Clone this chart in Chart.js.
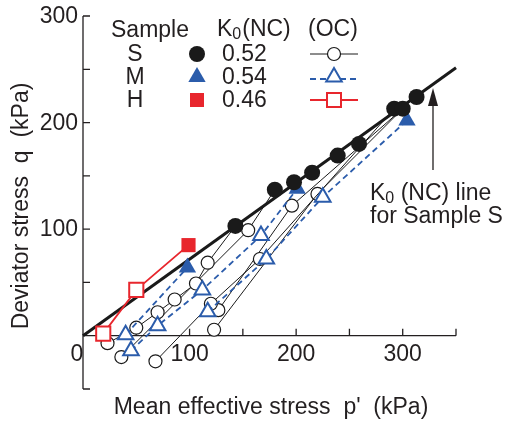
<!DOCTYPE html>
<html>
<head>
<meta charset="utf-8">
<script src="https://cdn.jsdelivr.net/npm/chart.js@4"></script>
<style>
  html, body { margin: 0; padding: 0; background: #fff; }
</style>
</head>
<body>
<canvas id="chart" width="505" height="425"></canvas>
<script>
// axis ranges and ticks
const xMin = 0, xMax = 350;
const yMin = -50, yMax = 300;
const xTicks = [50, 100, 150, 200, 250, 300, 350];
const yTicks = [-50, 0, 50, 100, 150, 200, 250, 300];
const xTickLabels = ['0', '100', '200', '300'];
const yTickLabels = ['100', '200', '300'];

// K0 (NC) line for sample S
const k0LineP = [0, 350];
const k0LineQ = [0, 251.5];

// normally consolidated states (filled)
const ncS_p = [143, 180, 198, 215, 239, 259, 292, 300, 313];
const ncS_q = [103, 137, 144, 153, 169, 180, 213, 213, 224];
const ncM_p = [98, 201, 304];
const ncM_q = [64, 138, 202];
const ncH_p = [99];
const ncH_q = [85];

// overconsolidated paths (open), last point = NC state it started from
const s1P = [23, 50, 70, 86, 106, 117, 143];
const s1Q = [-7, 7.5, 22, 34, 49, 68.5, 103];
const s2P = [36, 155, 180];
const s2Q = [-20, 99, 137];
const s3P = [68, 120, 166, 292];
const s3Q = [-24, 30, 72, 213];
const s4P = [123, 220, 300];
const s4Q = [5.6, 133, 213];
const s5P = [127, 196, 300];
const s5Q = [24, 122, 213];

const m1P = [40, 98];
const m1Q = [1, 64];
const m2P = [45, 70, 112, 167, 201];
const m2Q = [-14, 9.4, 43, 94, 138];
const m3P = [117, 172, 225, 304];
const m3Q = [22.5, 72, 130, 202];

const h1P = [19, 50, 99];
const h1Q = [2, 43, 85];

const BLACK = '#1a1a1a';
const BLUE = '#2b5cab';
const RED = '#e8262d';
const TEXT = '#231f20';
const FONT = '"Liberation Sans", Arial, sans-serif';

function toPoints(p, q) {
    return p.map((v, i) => ({ x: v, y: q[i] }));
}

function lastHidden(r) {
    return function (c) {
        return c.dataIndex === c.dataset.data.length - 1 ? 0 : r;
    };
}

function sPath(p, q) {
    return {
        data: toPoints(p, q),
        showLine: true,
        borderColor: BLACK,
        borderWidth: 1,
        pointStyle: 'circle',
        pointRadius: lastHidden(6.5),
        pointBackgroundColor: '#fff',
        pointBorderColor: BLACK,
        pointBorderWidth: 1.2
    };
}

function mPath(p, q) {
    return {
        data: toPoints(p, q),
        showLine: true,
        borderColor: BLUE,
        borderWidth: 1.8,
        borderDash: [6, 4],
        pointStyle: 'triangle',
        pointRadius: lastHidden(9),
        pointBackgroundColor: '#fff',
        pointBorderColor: BLUE,
        pointBorderWidth: 2
    };
}

function text(ctx, s, x, y, align, size) {
    ctx.font = (size || 23) + 'px ' + FONT;
    ctx.textAlign = align || 'left';
    ctx.fillText(s, x, y);
}

// K with subscript 0, returns x after it
function kZero(ctx, x, y) {
    ctx.font = '23px ' + FONT;
    ctx.textAlign = 'left';
    ctx.fillText('K', x, y);
    x += ctx.measureText('K').width;
    ctx.font = '16px ' + FONT;
    ctx.fillText('0', x, y + 3);
    return x + ctx.measureText('0').width;
}

const axesPlugin = {
    id: 'axes',
    beforeDatasetsDraw(chart) {
        const ctx = chart.ctx;
        const xs = chart.scales.x, ys = chart.scales.y;
        const x0 = xs.getPixelForValue(0);
        const y0 = ys.getPixelForValue(0);
        ctx.save();
        ctx.strokeStyle = TEXT;
        ctx.lineWidth = 1.3;
        ctx.beginPath();
        ctx.moveTo(x0, ys.getPixelForValue(yMax));
        ctx.lineTo(x0, ys.getPixelForValue(yMin));
        ctx.moveTo(x0, y0);
        ctx.lineTo(xs.getPixelForValue(xMax), y0);
        yTicks.forEach(v => {
            const y = ys.getPixelForValue(v);
            ctx.moveTo(x0, y);
            ctx.lineTo(x0 + 7, y);
        });
        xTicks.forEach(v => {
            const x = xs.getPixelForValue(v);
            ctx.moveTo(x, y0);
            ctx.lineTo(x, y0 - 7);
        });
        ctx.stroke();

        ctx.fillStyle = TEXT;
        ctx.textBaseline = 'middle';
        yTickLabels.forEach(l => {
            text(ctx, l, x0 - 5, ys.getPixelForValue(parseFloat(l)) + 1, 'right');
        });
        xTickLabels.forEach(l => {
            const v = parseFloat(l);
            const x = v === 0 ? x0 - 6 : xs.getPixelForValue(v);
            text(ctx, l, x, y0 + 19, 'center');
        });
        ctx.restore();
    },
    afterDraw(chart) {
        const ctx = chart.ctx;
        ctx.save();
        ctx.fillStyle = TEXT;
        ctx.strokeStyle = TEXT;

        // axis titles
        ctx.textBaseline = 'middle';
        text(ctx, "Mean effective stress  p'  (kPa)", 271, 408, 'center');
        ctx.save();
        ctx.translate(22, 206);
        ctx.rotate(-Math.PI / 2);
        text(ctx, 'Deviator stress  q  (kPa)', 0, 0, 'center');
        ctx.restore();

        // legend header
        ctx.textBaseline = 'alphabetic';
        text(ctx, 'Sample', 111, 37);
        let kx = kZero(ctx, 217, 36);
        text(ctx, '(NC)', kx + 1, 36);
        text(ctx, '(OC)', 308, 36);

        const rows = [
            { name: 'S', k0: '0.52', y: 54 },
            { name: 'M', k0: '0.54', y: 77 },
            { name: 'H', k0: '0.46', y: 100 }
        ];
        ctx.textBaseline = 'middle';
        rows.forEach(r => {
            text(ctx, r.name, 135, r.y + 1, 'center');
            text(ctx, r.k0, 222, r.y + 1);
        });

        // legend markers
        const mx = 197, ox = 334;
        ctx.fillStyle = BLACK;
        ctx.beginPath();
        ctx.arc(mx, 54, 8, 0, Math.PI * 2);
        ctx.fill();
        ctx.lineWidth = 1;
        ctx.strokeStyle = BLACK;
        ctx.beginPath();
        ctx.moveTo(310, 54); ctx.lineTo(358, 54);
        ctx.stroke();
        ctx.fillStyle = '#fff';
        ctx.lineWidth = 1.2;
        ctx.beginPath();
        ctx.arc(ox, 54, 6.5, 0, Math.PI * 2);
        ctx.fill(); ctx.stroke();

        function tri(x, y, r) {
            ctx.beginPath();
            ctx.moveTo(x, y - r);
            ctx.lineTo(x + r * 0.866, y + r * 0.5);
            ctx.lineTo(x - r * 0.866, y + r * 0.5);
            ctx.closePath();
        }
        ctx.fillStyle = BLUE;
        tri(mx, 77, 10);
        ctx.fill();
        ctx.strokeStyle = BLUE;
        ctx.lineWidth = 1.8;
        ctx.setLineDash([6, 4]);
        ctx.beginPath();
        ctx.moveTo(310, 79); ctx.lineTo(358, 79);
        ctx.stroke();
        ctx.setLineDash([]);
        ctx.lineWidth = 2;
        ctx.fillStyle = '#fff';
        tri(ox, 77, 9);
        ctx.fill(); ctx.stroke();

        ctx.fillStyle = RED;
        ctx.fillRect(mx - 7, 93, 14, 14);
        ctx.strokeStyle = RED;
        ctx.lineWidth = 1.8;
        ctx.beginPath();
        ctx.moveTo(310, 100); ctx.lineTo(358, 100);
        ctx.stroke();
        ctx.fillStyle = '#fff';
        ctx.lineWidth = 2;
        ctx.fillRect(ox - 7, 93, 14, 14);
        ctx.strokeRect(ox - 7, 93, 14, 14);

        // annotation with arrow
        ctx.fillStyle = TEXT;
        ctx.strokeStyle = TEXT;
        ctx.textBaseline = 'alphabetic';
        kx = kZero(ctx, 370, 200);
        text(ctx, ' (NC) line', kx, 200);
        text(ctx, 'for Sample S', 370, 223);
        ctx.lineWidth = 1.3;
        ctx.beginPath();
        ctx.moveTo(433, 170); ctx.lineTo(433, 104);
        ctx.stroke();
        ctx.beginPath();
        ctx.moveTo(433, 88); ctx.lineTo(438, 106); ctx.lineTo(428, 106);
        ctx.closePath();
        ctx.fill();
        ctx.restore();
    }
};

new Chart(document.getElementById('chart'), {
    type: 'scatter',
    data: {
        datasets: [
            { data: toPoints(ncS_p, ncS_q), pointStyle: 'circle', pointRadius: 8, pointBackgroundColor: BLACK, pointBorderColor: BLACK, pointBorderWidth: 0 },
            { data: toPoints(ncM_p, ncM_q), pointStyle: 'triangle', pointRadius: 10, pointBackgroundColor: BLUE, pointBorderColor: BLUE, pointBorderWidth: 0 },
            { data: toPoints(ncH_p, ncH_q), pointStyle: 'rect', pointRadius: 10, pointBackgroundColor: RED, pointBorderColor: RED, pointBorderWidth: 0 },
            {
                data: toPoints(h1P, h1Q), showLine: true, borderColor: RED, borderWidth: 1.8,
                pointStyle: 'rect', pointRadius: lastHidden(10), pointBackgroundColor: '#fff',
                pointBorderColor: RED, pointBorderWidth: 2
            },
            mPath(m1P, m1Q),
            mPath(m2P, m2Q),
            mPath(m3P, m3Q),
            sPath(s1P, s1Q),
            sPath(s2P, s2Q),
            sPath(s3P, s3Q),
            sPath(s4P, s4Q),
            sPath(s5P, s5Q),
            { data: toPoints(k0LineP, k0LineQ), showLine: true, borderColor: BLACK, borderWidth: 3, pointRadius: 0 }
        ]
    },
    options: {
        responsive: false,
        animation: false,
        events: [],
        clip: false,
        layout: { padding: { left: 83, right: 49, top: 16, bottom: 36 } },
        elements: { line: { tension: 0 } },
        plugins: { legend: { display: false }, tooltip: { enabled: false } },
        scales: {
            x: { type: 'linear', min: xMin, max: xMax, display: false },
            y: { type: 'linear', min: yMin, max: yMax, display: false }
        }
    },
    plugins: [axesPlugin]
});
</script>
</body>
</html>
